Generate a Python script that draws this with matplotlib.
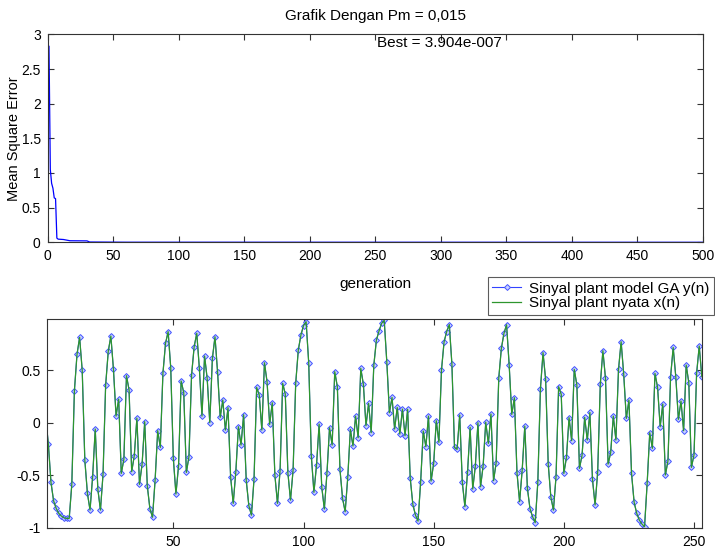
import numpy as np
import matplotlib
matplotlib.use("Agg")
import matplotlib.pyplot as plt

plt.rcParams['font.family'] = ['Liberation Sans', 'DejaVu Sans']
plt.rcParams['font.size'] = 11

# --- top panel: best MSE per generation ---
gen = [0, 1, 2, 3, 4, 5, 6, 7, 8, 12, 17, 30, 32, 60, 500]
mse = [2.83, 2.83, 1.05, 0.85, 0.78, 0.64, 0.63, 0.06, 0.045, 0.04, 0.022, 0.02, 0.004, 0.001, 3.904e-7]
best_text = "Best = 3.904e-007"

# --- bottom panel: plant signal x(n) and GA model y(n) ---
x_nyata = [
    0.05, -0.206, -0.568, -0.743, -0.816, -0.863, -0.889, -0.905, -0.911, -0.911,
    -0.587, 0.305, 0.651, 0.813, 0.498, -0.356, -0.673, -0.832, -0.514, -0.06,
    -0.632, -0.832, -0.489, 0.359, 0.679, 0.825, 0.508, 0.063, 0.225, -0.483,
    -0.349, 0.448, 0.311, -0.467, -0.314, 0.044, -0.587, -0.394, 0.01, -0.603,
    -0.819, -0.9, -0.546, -0.076, -0.235, 0.47, 0.756, 0.867, 0.524, -0.34,
    -0.679, -0.41, 0.397, 0.286, -0.473, -0.324, 0.454, 0.724, 0.851, 0.517,
    0.063, 0.635, 0.422, 0.0, 0.613, 0.819, 0.479, 0.051, 0.216, -0.07,
    0.143, -0.517, -0.768, -0.467, -0.038, -0.213, 0.076, -0.548, -0.79, -0.88,
    -0.536, 0.337, 0.263, -0.07, 0.571, 0.39, -0.016, 0.19, -0.498, -0.768,
    -0.457, 0.375, 0.273, -0.476, -0.737, -0.451, 0.375, 0.692, 0.835, 0.924,
    0.962, 0.571, -0.314, -0.663, -0.403, -0.013, -0.61, -0.822, -0.483, -0.048,
    -0.213, 0.486, 0.343, -0.444, -0.72, -0.848, -0.52, -0.063, -0.222, 0.063,
    -0.143, 0.517, 0.365, -0.029, 0.184, -0.095, 0.546, 0.787, 0.873, 0.946,
    0.975, 0.578, 0.095, 0.241, -0.06, 0.146, -0.108, 0.13, -0.124, 0.127,
    -0.53, -0.778, -0.879, -0.937, -0.562, -0.079, -0.229, 0.063, -0.556, -0.387,
    0.019, -0.187, 0.502, 0.771, 0.867, 0.935, 0.559, -0.235, -0.254, 0.073,
    -0.568, -0.8, -0.473, -0.044, -0.632, -0.413, 0.0, -0.61, -0.41, 0.006,
    -0.197, 0.083, -0.552, -0.381, 0.425, 0.708, 0.851, 0.933, 0.549, 0.079,
    0.238, -0.476, -0.752, -0.451, -0.032, -0.625, -0.819, -0.895, -0.952, -0.568,
    0.321, 0.667, 0.413, -0.394, -0.705, -0.832, -0.514, 0.343, 0.27, -0.483,
    -0.33, 0.048, -0.171, 0.508, 0.359, -0.435, -0.308, 0.051, -0.165, 0.098,
    -0.54, -0.784, -0.467, 0.365, 0.686, 0.422, -0.394, -0.283, 0.063, -0.165,
    0.508, 0.771, 0.46, 0.041, 0.216, -0.483, -0.759, -0.863, -0.927, -0.965,
    -0.99, -0.578, -0.095, -0.244, 0.47, 0.337, -0.038, 0.178, -0.498, -0.362,
    0.438, 0.717, 0.438, 0.032, 0.206, -0.076, 0.549, 0.381, -0.425, -0.305,
    0.47, 0.73, 0.438,
]
y_model = list(x_nyata)  # GA model output overlaps the real signal
n = np.arange(1, len(x_nyata) + 1)


def matlab_axes(ax):
    for s in ax.spines.values():
        s.set_color('#333333')
        s.set_linewidth(0.8)
    ax.tick_params(direction='in', top=True, right=True, length=4,
                   width=0.8, color='#333333', labelsize=10, pad=5)


fig = plt.figure(figsize=(7.15, 5.5), dpi=100)

ax1 = fig.add_axes([0.0667, 0.5595, 0.9165, 0.378])
ax1.plot(gen, mse, color='#0000ff', lw=0.9)
ax1.set_xlim(0, 500)
ax1.set_ylim(0, 3)
ax1.set_xticks(np.arange(0, 501, 50))
ax1.set_yticks(np.arange(0, 3.01, 0.5))
ax1.set_yticklabels(['0', '0.5', '1', '1.5', '2', '2.5', '3'])
ax1.set_title("Grafik Dengan Pm = 0,015", fontsize=11, pad=10)
ax1.set_xlabel("generation", labelpad=10)
ax1.set_ylabel("Mean Square Error", fontsize=10.5, labelpad=0.5)
ax1.text(251, 2.87, best_text, ha='left', va='center', fontsize=11)
matlab_axes(ax1)

ax2 = fig.add_axes([0.0662, 0.0395, 0.9161, 0.38])
ax2.plot(n, y_model, color='#3344ff', lw=0.8, marker='D', ms=3.0,
         mfc='#c8d0ff', mec='#4455ff', mew=0.7, markevery=slice(1, None),
         label='Sinyal plant model GA y(n)')
ax2.plot(n, x_nyata, color='#2e962e', lw=0.9, label='Sinyal plant nyata x(n)')
ax2.set_xlim(1.6, 253.2)
ax2.set_ylim(-1.005, 0.985)
ax2.set_xticks([50, 100, 150, 200, 250])
ax2.set_yticks([-1, -0.5, 0, 0.5])
ax2.set_yticklabels(['-1', '-0.5', '0', '0.5'])
matlab_axes(ax2)

leg = fig.legend(loc='upper right', bbox_to_anchor=(714 / 715, 1 - 277 / 550),
                 frameon=True, fancybox=False, fontsize=11, borderaxespad=0,
                 handlelength=1.9, handletextpad=0.5, borderpad=0.3,
                 labelspacing=0.05)
leg.get_frame().set_edgecolor('#333333')
leg.get_frame().set_linewidth(0.8)

fig.savefig("out.png", dpi=100)
